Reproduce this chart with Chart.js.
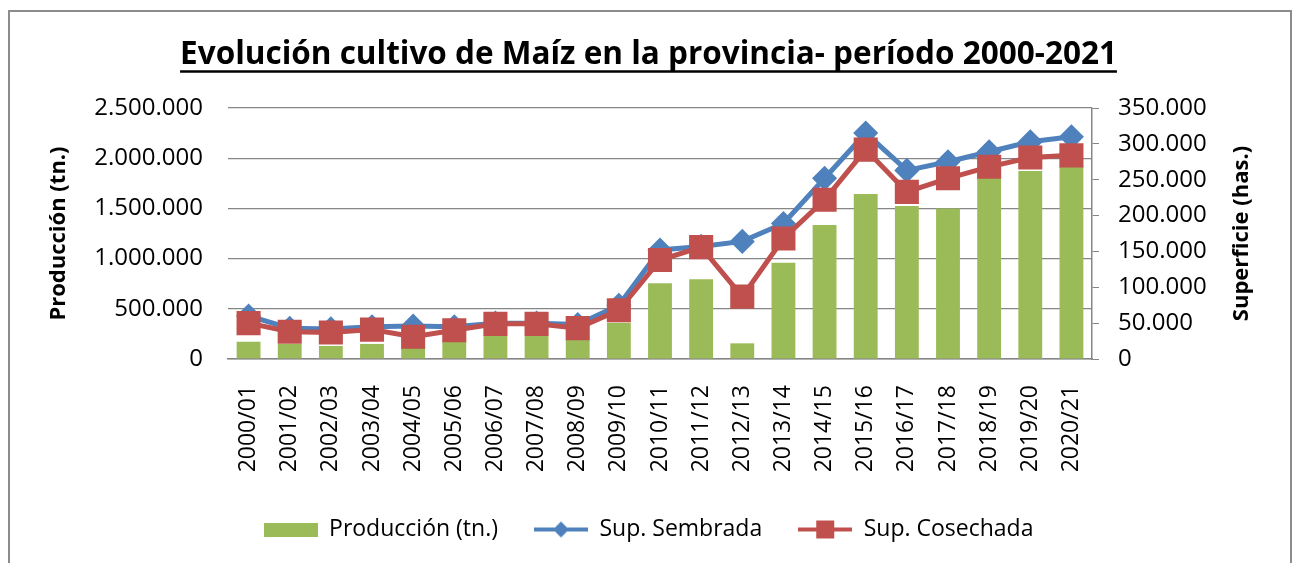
<!DOCTYPE html>
<html>
<head>
<meta charset="utf-8">
<script src="https://cdn.jsdelivr.net/npm/chart.js@4.4.0/dist/chart.umd.min.js"></script>
<style>
  html, body { margin: 0; padding: 0; background: #fff; }
  #wrap { width: 1297px; height: 563px; }
</style>
</head>
<body>
<div id="wrap"><canvas id="maizChart" width="1297" height="563"></canvas></div>
<script>
const campanias = ["2000/01", "2001/02", "2002/03", "2003/04", "2004/05", "2005/06", "2006/07",
    "2007/08", "2008/09", "2009/10", "2010/11", "2011/12", "2012/13", "2013/14", "2014/15",
    "2015/16", "2016/17", "2017/18", "2018/19", "2019/20", "2020/21"];

const produccion = [172000, 150000, 130000, 150000, 122000, 182000, 236000, 229000, 196000, 362000,
    754000, 794000, 156000, 959000, 1335000, 1643000, 1524000, 1500000, 1810000, 1872000, 1925000];

const supSembrada = [60000, 43000, 42000, 45000, 46000, 45000, 50000, 50000, 48000, 75000,
    152000, 157000, 164000, 189000, 252000, 315000, 263000, 275000, 289000, 303000, 310000];

const supCosechada = [50000, 38000, 37000, 41000, 31000, 40000, 49000, 49000, 43000, 68000,
    138000, 156000, 87000, 168000, 222000, 292000, 233000, 252000, 268000, 281000, 284000];

const seriesNames = ["Producción (tn.)", "Sup. Sembrada", "Sup. Cosechada"];

const verde = '#9bbb59';
const azul = '#4f81bd';
const rojo = '#c0504d';
const gris = '#868686';

// puntos con separador de miles
function miles(v) {
    return String(v).replace(/\B(?=(\d{3})+(?!\d))/g, '.');
}

// iconos de la leyenda (barra / linea con marcador)
function iconoBarra() {
    const c = document.createElement('canvas');
    c.width = 54; c.height = 14;
    const x = c.getContext('2d');
    x.fillStyle = verde;
    x.fillRect(0, 0, 54, 14);
    return c;
}
function iconoLinea(color, forma) {
    const c = document.createElement('canvas');
    c.width = 54; c.height = 22;
    const x = c.getContext('2d');
    x.strokeStyle = color;
    x.lineWidth = 4;
    x.beginPath(); x.moveTo(0, 11); x.lineTo(54, 11); x.stroke();
    x.fillStyle = color;
    x.beginPath();
    if (forma === 'rombo') {
        x.moveTo(27, 3); x.lineTo(35, 11); x.lineTo(27, 19); x.lineTo(19, 11);
    } else {
        x.rect(18, 2, 18, 18);
    }
    x.fill();
    return c;
}
const iconos = [iconoBarra(), iconoLinea(azul, 'rombo'), iconoLinea(rojo, 'cuadrado')];

const marcoPlugin = {
    id: 'marco',
    beforeDraw(chart) {
        const ctx = chart.ctx;
        ctx.save();
        ctx.fillStyle = '#fff';
        ctx.fillRect(0, 0, chart.width, chart.height);
        ctx.strokeStyle = '#8c8c8c';
        ctx.lineWidth = 2;
        ctx.strokeRect(9, 11, 1282, 600);
        ctx.restore();
    },
    afterDraw(chart) {
        const ctx = chart.ctx;
        ctx.save();
        // subrayado del titulo
        const t = chart.options.plugins.title;
        ctx.font = 'bold ' + t.font.size + 'px "Open Sans"';
        const w = ctx.measureText(t.text).width;
        const cx = chart.width / 2;
        ctx.strokeStyle = '#000';
        ctx.lineWidth = 2.5;
        ctx.beginPath();
        ctx.moveTo(cx - w / 2, 71.5);
        ctx.lineTo(cx + w / 2, 71.5);
        ctx.stroke();
        // titulo del eje derecho, leido de abajo hacia arriba
        const a = chart.chartArea;
        ctx.translate(1242, (a.top + a.bottom) / 2);
        ctx.rotate(-Math.PI / 2);
        ctx.font = 'bold 22px "Open Sans"';
        ctx.fillStyle = '#000';
        ctx.textAlign = 'center';
        ctx.textBaseline = 'middle';
        ctx.fillText('Superficie (has.)', 0, 0);
        ctx.restore();
    }
};

Chart.defaults.font.family = '"Open Sans"';
Chart.defaults.color = '#000';

const maizChart = new Chart(document.getElementById('maizChart'), {
    type: 'bar',
    data: {
        labels: campanias,
        datasets: [{
            label: seriesNames[0],
            data: produccion,
            backgroundColor: verde,
            barPercentage: 0.58,
            categoryPercentage: 1,
            yAxisID: 'y',
            order: 3
        }, {
            type: 'line',
            label: seriesNames[1],
            data: supSembrada,
            borderColor: azul,
            backgroundColor: azul,
            borderWidth: 5,
            pointStyle: 'rectRot',
            pointRadius: 9,
            pointHoverRadius: 9,
            tension: 0,
            yAxisID: 'y1',
            order: 2
        }, {
            type: 'line',
            label: seriesNames[2],
            data: supCosechada,
            borderColor: rojo,
            backgroundColor: rojo,
            borderWidth: 5,
            pointStyle: 'rect',
            pointRadius: 13.5,
            pointHoverRadius: 13.5,
            tension: 0,
            yAxisID: 'y1',
            order: 1
        }]
    },
    options: {
        responsive: false,
        animation: false,
        layout: { padding: { left: 0, right: 0, top: 0, bottom: 12 } },
        scales: {
            x: {
                grid: { display: false, drawTicks: false },
                border: { display: true, color: gris, width: 1.5 },
                ticks: { minRotation: 90, maxRotation: 90, padding: 26, font: { size: 23 } },
                afterFit(scale) { scale.height = 123; }
            },
            y: {
                position: 'left',
                min: 0,
                max: 2500000,
                ticks: { stepSize: 500000, padding: 25, font: { size: 24 }, callback: v => miles(v) },
                grid: { color: gris, lineWidth: 1.2, drawTicks: false },
                border: { display: false },
                title: { display: true, text: 'Producción (tn.)', font: { size: 22, weight: 'bold' }, padding: { top: 46 } },
                afterFit(scale) { scale.width = 228; }
            },
            y1: {
                position: 'right',
                min: 0,
                max: 350000,
                ticks: { stepSize: 50000, padding: 19, font: { size: 24 }, callback: v => miles(v) },
                grid: { drawOnChartArea: false, color: gris, tickLength: 7 },
                border: { display: true, color: gris, width: 1.5 },
                afterFit(scale) { scale.width = 205; }
            }
        },
        plugins: {
            title: {
                display: true,
                text: 'Evolución cultivo de Maíz en la provincia- período 2000-2021',
                font: { size: 31.5, weight: 'bold' },
                color: '#000',
                padding: { top: 36, bottom: 34.2 }
            },
            legend: {
                position: 'bottom',
                labels: {
                    usePointStyle: true,
                    pointStyleWidth: 54,
                    padding: 36,
                    font: { size: 23 },
                    generateLabels: () => seriesNames.map((n, i) => ({
                        text: n,
                        pointStyle: iconos[i],
                        datasetIndex: i,
                        fillStyle: 'transparent',
                        strokeStyle: 'transparent',
                        lineWidth: 0,
                        hidden: false
                    }))
                }
            },
            tooltip: { enabled: false }
        }
    },
    plugins: [marcoPlugin]
});
</script>
</body>
</html>
